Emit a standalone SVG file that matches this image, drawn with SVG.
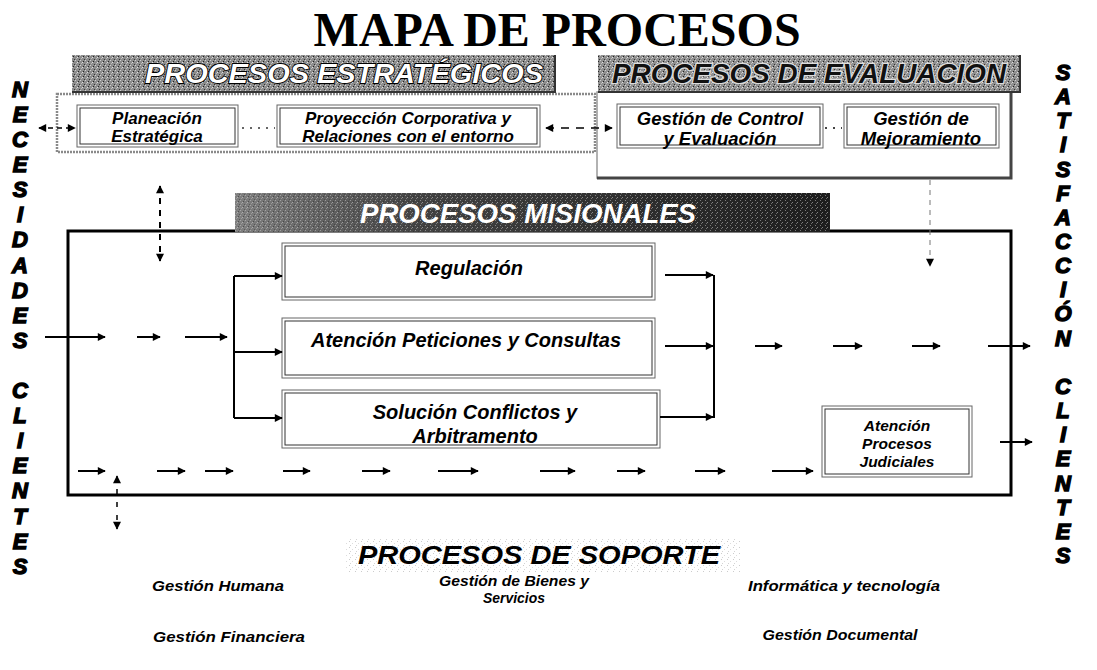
<svg xmlns="http://www.w3.org/2000/svg" width="1097" height="670" viewBox="0 0 1097 670">
<style>
.side{font-family:"Liberation Sans",Arial,sans-serif;font-weight:bold;font-style:italic;font-size:22px;fill:#000;stroke:#000;stroke-width:1.4;text-anchor:middle}
.bx{font-family:"Liberation Sans",Arial,sans-serif;font-weight:bold;font-style:italic;fill:#000;text-anchor:middle}
.sup{font-family:"Liberation Sans Narrow","Liberation Sans",Arial,sans-serif;font-weight:bold;font-style:italic;font-size:15.5px;fill:#000;text-anchor:middle}
.ban{font-family:"Liberation Sans",Arial,sans-serif;font-weight:bold;font-style:italic;text-anchor:middle}
.box{fill:#fff;stroke:#666;stroke-width:1}
.boxin{fill:none;stroke:#333;stroke-width:1}
.sol{fill:none;stroke:#000;stroke-width:2}
.dsh{fill:none;stroke:#000;stroke-width:2;stroke-dasharray:6 6}
</style>
<defs>
<pattern id="dith" width="5" height="5" patternUnits="userSpaceOnUse">
<rect x="0" y="0" width="1" height="1" fill="#d0d0d0"/>
<rect x="3" y="1" width="1" height="1" fill="#222"/>
<rect x="1" y="3" width="1" height="1" fill="#bbb"/>
<rect x="4" y="4" width="1" height="1" fill="#333"/>
<rect x="2" y="2" width="1" height="1" fill="#e0e0e0"/>
</pattern>
<pattern id="speck" width="6" height="6" patternUnits="userSpaceOnUse">
<rect x="1" y="1" width="1" height="1" fill="#ccc"/>
<rect x="4" y="3" width="1" height="1" fill="#ddd"/>
<rect x="2" y="5" width="1" height="1" fill="#d4d4d4"/>
</pattern>
<linearGradient id="misG" x1="0" y1="0" x2="1" y2="0">
<stop offset="0" stop-color="#808080"/>
<stop offset="0.3" stop-color="#444"/>
<stop offset="1" stop-color="#1c1c1c"/>
</linearGradient>
<marker id="ah" viewBox="0 0 10 10" refX="9" refY="5" markerWidth="9" markerHeight="8" markerUnits="userSpaceOnUse" orient="auto-start-reverse">
<path d="M0,0 L10,5 L0,10 z" fill="#000"/>
</marker>
</defs>
<rect width="1097" height="670" fill="#fff"/>

<text x="557" y="46" font-family="Liberation Serif,Times New Roman,serif" font-weight="bold" font-size="48" text-anchor="middle" fill="#000">MAPA DE PROCESOS</text>

<g id="necesidades">
<text class="side" x="20" y="97">N</text>
<text class="side" x="20" y="122">E</text>
<text class="side" x="20" y="147">C</text>
<text class="side" x="20" y="172">E</text>
<text class="side" x="20" y="197">S</text>
<text class="side" x="20" y="222">I</text>
<text class="side" x="20" y="247">D</text>
<text class="side" x="20" y="273">A</text>
<text class="side" x="20" y="298">D</text>
<text class="side" x="20" y="323">E</text>
<text class="side" x="20" y="348">S</text>
<text class="side" x="20" y="398">C</text>
<text class="side" x="20" y="423">L</text>
<text class="side" x="20" y="448">I</text>
<text class="side" x="20" y="473">E</text>
<text class="side" x="20" y="498">N</text>
<text class="side" x="20" y="524">T</text>
<text class="side" x="20" y="549">E</text>
<text class="side" x="20" y="574">S</text>
</g>
<g id="satisfaccion">
<text class="side" x="1063" y="80">S</text>
<text class="side" x="1063" y="104">A</text>
<text class="side" x="1063" y="128">T</text>
<text class="side" x="1063" y="152">I</text>
<text class="side" x="1063" y="177">S</text>
<text class="side" x="1063" y="201">F</text>
<text class="side" x="1063" y="225">A</text>
<text class="side" x="1063" y="249">C</text>
<text class="side" x="1063" y="273">C</text>
<text class="side" x="1063" y="297">I</text>
<text class="side" x="1063" y="321">Ó</text>
<text class="side" x="1063" y="346">N</text>
<text class="side" x="1063" y="394">C</text>
<text class="side" x="1063" y="418">L</text>
<text class="side" x="1063" y="442">I</text>
<text class="side" x="1063" y="466">E</text>
<text class="side" x="1063" y="491">N</text>
<text class="side" x="1063" y="515">T</text>
<text class="side" x="1063" y="539">E</text>
<text class="side" x="1063" y="563">S</text>
</g>

<g id="estrategicos">
<rect x="57" y="94" width="538" height="58" fill="#fff" stroke="#8a8a8a" stroke-width="2.5" stroke-dasharray="2 1"/>
<rect x="72" y="55" width="483" height="37" fill="#8c8c8c"/>
<rect x="72" y="55" width="483" height="37" fill="url(#dith)"/>
<path d="M72,92 H555 V55" fill="none" stroke="#333" stroke-width="2"/>
<text class="ban" x="344" y="83" font-size="28" fill="#fff" stroke="#000" stroke-width="1.8" paint-order="stroke" textLength="398" lengthAdjust="spacingAndGlyphs">PROCESOS ESTRATÉGICOS</text>
</g>
<g id="planeacion">
<rect class="box" x="77" y="105" width="161" height="42"/>
<rect class="boxin" x="80" y="108" width="155" height="36"/>
<text class="bx" x="157" y="124" font-size="17">Planeación</text>
<text class="bx" x="157" y="142" font-size="17">Estratégica</text>
</g>
<g id="proyeccion">
<rect class="box" x="277" y="105" width="263" height="42"/>
<rect class="boxin" x="280" y="108" width="257" height="36"/>
<text class="bx" x="408" y="124" font-size="17">Proyección Corporativa y</text>
<text class="bx" x="408" y="142" font-size="17">Relaciones con el entorno</text>
</g>

<g id="evaluacion">
<rect x="597" y="92" width="414" height="86" fill="#fff" stroke="#999" stroke-width="1.5"/>
<path d="M1011,92 V178 H597" fill="none" stroke="#444" stroke-width="3"/>
<rect x="598" y="55" width="422" height="37" fill="#8f8f8f"/>
<rect x="598" y="55" width="422" height="37" fill="url(#dith)"/>
<path d="M598,92 H1020 V55" fill="none" stroke="#333" stroke-width="2"/>
<text class="ban" x="809" y="83" font-size="28" fill="#111" stroke="#ddd" stroke-width="2.5" paint-order="stroke" textLength="394" lengthAdjust="spacingAndGlyphs">PROCESOS DE EVALUACION</text>
</g>
<g id="control">
<rect class="box" x="617" y="104" width="206" height="44" stroke="#999"/>
<rect class="boxin" x="620" y="107" width="200" height="38" stroke="#777"/>
<text class="bx" x="720" y="125" font-size="18.5">Gestión de Control</text>
<text class="bx" x="720" y="145" font-size="18.5">y Evaluación</text>
</g>
<g id="mejoramiento">
<rect class="box" x="844" y="104" width="155" height="44" stroke="#999"/>
<rect class="boxin" x="847" y="107" width="149" height="38" stroke="#777"/>
<text class="bx" x="921" y="125" font-size="18.5">Gestión de</text>
<text class="bx" x="921" y="145" font-size="18.5">Mejoramiento</text>
</g>

<g id="misionales">
<rect x="68" y="231" width="943" height="264" fill="none" stroke="#000" stroke-width="3"/>
<rect x="235" y="193" width="595" height="39" fill="url(#misG)"/>
<rect x="235" y="193" width="595" height="39" fill="url(#dith)" opacity="0.5"/>
<text class="ban" x="528" y="223" font-size="28" fill="#fff" textLength="336" lengthAdjust="spacingAndGlyphs">PROCESOS MISIONALES</text>
</g>
<g id="regulacion">
<rect class="box" x="282" y="243" width="373" height="57"/>
<rect class="boxin" x="285" y="246" width="367" height="51"/>
<text class="bx" x="469" y="275" font-size="20">Regulación</text>
</g>
<g id="atencion">
<rect class="box" x="282" y="318" width="373" height="60"/>
<rect class="boxin" x="285" y="321" width="367" height="54"/>
<text class="bx" x="466" y="347" font-size="20">Atención Peticiones y Consultas</text>
</g>
<g id="solucion">
<rect class="box" x="282" y="390" width="378" height="58"/>
<rect class="boxin" x="285" y="393" width="372" height="52"/>
<text class="bx" x="475" y="419" font-size="20">Solución Conflictos y</text>
<text class="bx" x="475" y="443" font-size="20">Arbitramento</text>
</g>
<g id="judiciales">
<rect class="box" x="822" y="406" width="150" height="71"/>
<rect class="boxin" x="825" y="409" width="144" height="65"/>
<text class="bx" x="897" y="431" font-size="15.5">Atención</text>
<text class="bx" x="897" y="449" font-size="15.5">Procesos</text>
<text class="bx" x="897" y="467" font-size="15.5">Judiciales</text>
</g>

<g id="soporte">
<rect x="345" y="538" width="395" height="34" fill="url(#speck)"/>
<text class="ban" x="539" y="564" font-size="26" fill="#000" textLength="362" lengthAdjust="spacingAndGlyphs">PROCESOS DE SOPORTE</text>
<text class="sup" x="218" y="591" textLength="132" lengthAdjust="spacingAndGlyphs">Gestión  Humana</text>
<text class="sup" x="514" y="586" textLength="150" lengthAdjust="spacingAndGlyphs">Gestión  de  Bienes y</text>
<text class="sup" x="514" y="603" textLength="62" lengthAdjust="spacingAndGlyphs">Servicios</text>
<text class="sup" x="844" y="591" textLength="192" lengthAdjust="spacingAndGlyphs">Informática y tecnología</text>
<text class="sup" x="229" y="642" textLength="152" lengthAdjust="spacingAndGlyphs">Gestión Financiera</text>
<text class="sup" x="840" y="640" textLength="155" lengthAdjust="spacingAndGlyphs">Gestión Documental</text>
</g>

<g id="connectors">
<line x1="39" y1="128" x2="75" y2="128" stroke="#000" stroke-width="1.5" stroke-dasharray="5 4" marker-start="url(#ah)" marker-end="url(#ah)"/>
<line x1="242" y1="128" x2="275" y2="128" stroke="#666" stroke-width="2" stroke-dasharray="2 6"/>
<line x1="546" y1="128" x2="612" y2="128" stroke="#000" stroke-width="1.5" stroke-dasharray="8 7" marker-start="url(#ah)" marker-end="url(#ah)"/>
<line x1="825" y1="128" x2="842" y2="128" stroke="#444" stroke-width="2" stroke-dasharray="2 6"/>
<line x1="160" y1="186" x2="160" y2="261" class="dsh" marker-start="url(#ah)" marker-end="url(#ah)"/>
<line x1="930" y1="180" x2="930" y2="266" stroke="#777" stroke-width="1" stroke-dasharray="5 5" marker-end="url(#ah)"/>
<line x1="117" y1="476" x2="117" y2="529" stroke="#000" stroke-width="1.5" stroke-dasharray="5 8" marker-start="url(#ah)" marker-end="url(#ah)"/>

<line x1="45" y1="337" x2="105" y2="337" class="sol" marker-end="url(#ah)"/>
<line x1="137" y1="337" x2="160" y2="337" class="sol" marker-end="url(#ah)"/>
<line x1="185" y1="337" x2="227" y2="337" class="sol" marker-end="url(#ah)"/>

<path d="M234,276 V418" class="sol"/>
<line x1="234" y1="276" x2="282" y2="276" class="sol" marker-end="url(#ah)"/>
<line x1="234" y1="352" x2="282" y2="352" class="sol" marker-end="url(#ah)"/>
<line x1="234" y1="418" x2="282" y2="418" class="sol" marker-end="url(#ah)"/>

<line x1="665" y1="275" x2="713" y2="275" class="sol" marker-end="url(#ah)"/>
<line x1="665" y1="346" x2="713" y2="346" class="sol" marker-end="url(#ah)"/>
<line x1="660" y1="417" x2="713" y2="417" class="sol" marker-end="url(#ah)"/>
<path d="M714,275 V418" class="sol"/>

<line x1="755" y1="346" x2="782" y2="346" class="sol" marker-end="url(#ah)"/>
<line x1="833" y1="346" x2="862" y2="346" class="sol" marker-end="url(#ah)"/>
<line x1="912" y1="346" x2="940" y2="346" class="sol" marker-end="url(#ah)"/>
<line x1="988" y1="346" x2="1030" y2="346" class="sol" stroke-width="2.5" marker-end="url(#ah)"/>
<line x1="1000" y1="442" x2="1032" y2="442" class="sol" stroke-width="2.5" marker-end="url(#ah)"/>

<line x1="78" y1="471" x2="105" y2="471" class="sol" marker-end="url(#ah)"/>
<line x1="157" y1="471" x2="185" y2="471" class="sol" marker-end="url(#ah)"/>
<line x1="205" y1="471" x2="233" y2="471" class="sol" marker-end="url(#ah)"/>
<line x1="283" y1="471" x2="310" y2="471" class="sol" marker-end="url(#ah)"/>
<line x1="362" y1="471" x2="390" y2="471" class="sol" marker-end="url(#ah)"/>
<line x1="438" y1="471" x2="478" y2="471" class="sol" stroke-width="2.5" marker-end="url(#ah)"/>
<line x1="540" y1="471" x2="575" y2="471" class="sol" marker-end="url(#ah)"/>
<line x1="617" y1="471" x2="645" y2="471" class="sol" marker-end="url(#ah)"/>
<line x1="695" y1="471" x2="725" y2="471" class="sol" marker-end="url(#ah)"/>
<line x1="772" y1="471" x2="813" y2="471" class="sol" stroke-width="2.5" marker-end="url(#ah)"/>
</g>
</svg>
